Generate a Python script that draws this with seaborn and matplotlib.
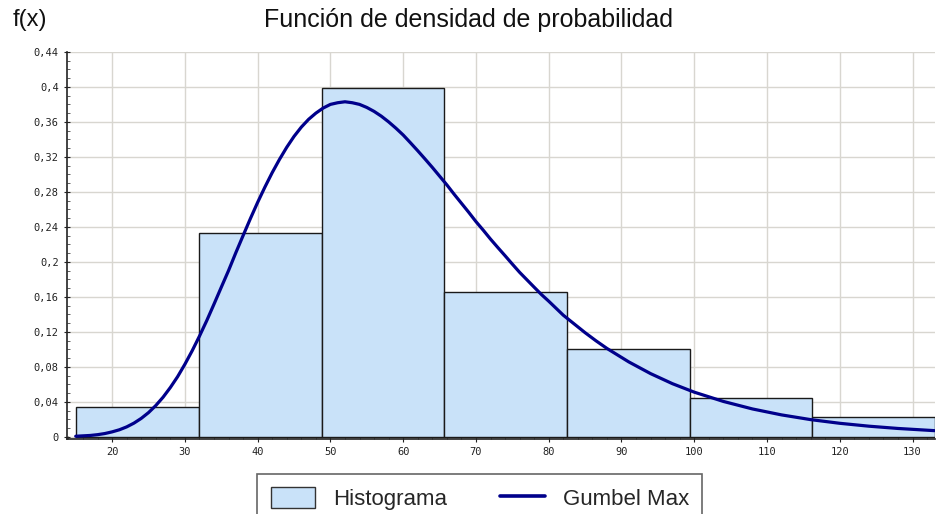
import numpy as np
import pandas as pd
import matplotlib
matplotlib.use("Agg")
import matplotlib.pyplot as plt
from matplotlib.ticker import MultipleLocator, FuncFormatter
from matplotlib.patches import Patch
from matplotlib.lines import Line2D
import seaborn as sns

# histogram: bin edges and relative frequencies
bin_edges = [15.1, 31.95, 48.8, 65.65, 82.5, 99.35, 116.2, 133.05]
bin_heights = [0.034, 0.233, 0.399, 0.165, 0.1005, 0.0445, 0.023]

# Gumbel Max curve
curve_x = [15, 17, 18, 19, 20, 21, 22, 23, 24, 25, 26, 27, 28, 29, 30, 31, 32, 33,
           34, 35, 36, 37, 38, 39, 40, 41, 42, 43, 44, 45, 46, 47, 48, 49, 50, 51,
           52, 53, 54, 55, 56, 57, 58, 59, 60, 61, 62, 63, 64, 65, 66, 67, 68, 69,
           70, 71, 72, 73, 74, 75, 76, 77, 78, 79, 80, 81, 82, 83.5, 85, 86.5, 88,
           91, 94, 97, 100, 104, 108, 112, 116, 120, 124, 128, 133]
curve_y = [0.0006, 0.0015, 0.0024, 0.0037, 0.0056, 0.0080, 0.0113, 0.0156, 0.021,
           0.0276, 0.0357, 0.0452, 0.0563, 0.0687, 0.0829, 0.0983, 0.115, 0.1327,
           0.1516, 0.1709, 0.190, 0.2104, 0.230, 0.2494, 0.268, 0.2855, 0.302,
           0.3171, 0.331, 0.3434, 0.354, 0.3629, 0.370, 0.3758, 0.380, 0.3819,
           0.383, 0.3819, 0.380, 0.3765, 0.372, 0.3665, 0.360, 0.3528, 0.345,
           0.3361, 0.327, 0.3176, 0.308, 0.2980, 0.288, 0.2773, 0.267, 0.2567,
           0.246, 0.2362, 0.226, 0.2164, 0.207, 0.1974, 0.188, 0.1795, 0.171,
           0.1626, 0.155, 0.1470, 0.139, 0.129, 0.119, 0.1097, 0.101,
           0.0856, 0.0722, 0.0607, 0.0510, 0.0404, 0.0318, 0.0250, 0.0196, 0.0154,
           0.0121, 0.0095, 0.0070]

centers = [(a + b) / 2 for a, b in zip(bin_edges[:-1], bin_edges[1:])]
hist_df = pd.DataFrame({"x": centers, "h": bin_heights})
curve_df = pd.DataFrame({"x": curve_x, "y": curve_y})

sns.set_style("white")
plt.rcParams["font.family"] = ["Liberation Sans", "DejaVu Sans"]

bar_color = "#c9e2f9"
line_color = "#00008b"

fig = plt.figure(figsize=(9.37, 5.14), dpi=100)
ax = fig.add_axes([0.0715, 0.146, 0.9265, 0.753])

sns.histplot(data=hist_df, x="x", weights="h", bins=bin_edges, stat="count",
             color=bar_color, alpha=1, edgecolor="#1a1a1a", linewidth=1, ax=ax, zorder=2)
sns.lineplot(data=curve_df, x="x", y="y", sort=False, estimator=None,
             color=line_color, linewidth=2.3, ax=ax, zorder=3,
             solid_capstyle="round", solid_joinstyle="round")

ax.set_xlim(13.8, 133.1)
ax.set_ylim(-0.0025, 0.44)
ax.set_xticks(range(20, 131, 10))
ax.set_yticks(np.arange(0, 0.441, 0.04))
ax.xaxis.set_minor_locator(MultipleLocator(2))
ax.yaxis.set_minor_locator(MultipleLocator(0.01))
ax.yaxis.set_major_formatter(FuncFormatter(lambda v, p: ("%g" % round(v, 2)).replace(".", ",")))

ax.grid(True, which="major", color="#d8d6d0", linewidth=1, zorder=0)
ax.set_axisbelow(True)
for s in ["top", "right"]:
    ax.spines[s].set_visible(False)
for s in ["left", "bottom"]:
    ax.spines[s].set_color("#222222")
    ax.spines[s].set_linewidth(1.2)

ax.tick_params(which="major", direction="inout", length=5, width=0.8, labelsize=7.5,
               colors="#222222", left=True, bottom=True)
ax.tick_params(which="minor", direction="in", length=2.5, width=0.6, colors="#444444",
               left=True, bottom=True)
for lbl in ax.get_xticklabels() + ax.get_yticklabels():
    lbl.set_fontfamily("DejaVu Sans Mono")
ax.set_xlabel("")
ax.set_ylabel("")

fig.text(0.5, 0.962, "Función de densidad de probabilidad", ha="center", va="center",
         fontsize=18, color="#111111")
fig.text(0.013, 0.962, "f(x)", ha="left", va="center", fontsize=17, color="#111111")

handles = [Patch(facecolor=bar_color, edgecolor="#333333", linewidth=1),
           Line2D([0], [0], color=line_color, linewidth=2.6)]
leg = fig.legend(handles, ["Histograma", "Gumbel Max"], loc="upper center",
                 bbox_to_anchor=(0.512, 0.1), ncol=2, frameon=True, fancybox=False,
                 fontsize=16, edgecolor="#666666", framealpha=1,
                 handlelength=2.0, handleheight=1.1, columnspacing=2.4, borderpad=0.6)
leg.get_frame().set_linewidth(1.2)

plt.savefig("out.png", dpi=100)
